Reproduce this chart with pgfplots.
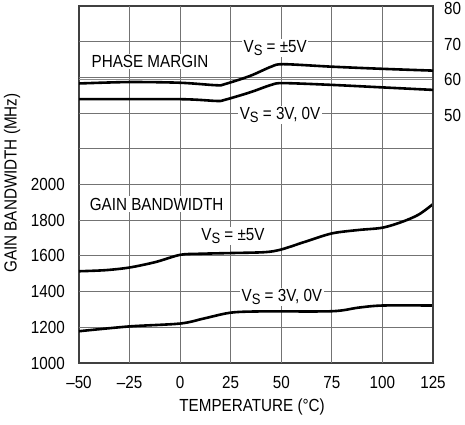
\documentclass[border=0pt]{standalone}
\usepackage{fontspec}
\setmainfont{Liberation Sans}[FakeStretch=0.87]
\usepackage{pgfplots}
\pgfplotsset{compat=1.18}
\newcommand{\fs}{\fontsize{17.5bp}{20bp}\selectfont}
\newcommand{\VS}{V\raisebox{-0.35ex}{\fontsize{15bp}{15bp}\selectfont S}}
\begin{document}
\begin{tikzpicture}
\begin{axis}[
  scale only axis, width=354bp, height=357bp,
  xmin=-50, xmax=125, ymin=1000, ymax=3000,
  xtick={-50,-25,0,25,50,75,100,125},
  xticklabels={--50,--25,0,25,50,75,100,125},
  ytick={1000,1200,1400,1600,1800,2000},
  yticklabels={1000,1200,1400,1600,1800,2000},
  major tick length=1bp,
  tick style={black!60},
  axis line style={black!75, line width=1.3bp},
  tick label style={font=\fs, inner sep=0pt},
  xticklabel style={yshift=-13bp},
  yticklabel style={xshift=-14bp},
  xlabel={TEMPERATURE (°C)},
  ylabel={GAIN BANDWIDTH (MHz)},
  every axis x label/.style={at={(axis description cs:0.489,-0.123)}, anchor=center, font=\fs},
  every axis y label/.style={at={(axis description cs:-0.189,0.504)}, anchor=center, rotate=90, font=\fs},
]
\pgfplotsinvokeforeach{-25,0,25,50,75,100}{
  \draw[black!55, line width=1bp] (axis cs:#1,1000) -- (axis cs:#1,3000);
}
\pgfplotsinvokeforeach{1200,1400,1600,1800,2000,2200,2400,2600,2800}{
  \draw[black!55, line width=1bp] (axis cs:-50,#1) -- (axis cs:125,#1);
}
\draw[black!45, line width=0.8bp] (axis cs:-50,2586) -- (axis cs:125,2586);
\addplot[black, line width=2.6bp, smooth, tension=0.5] coordinates {
 (-50,1514) (-37,1520) (-25,1535) (-12,1566) (0,1606) (10,1612) (25,1616) (42,1621) (50,1636) (62,1680) (75,1726) (88,1745) (100,1758) (110,1792) (118,1832) (125,1890)};
\addplot[black, line width=2.6bp, smooth, tension=0.5] coordinates {
 (-50,1178) (-25,1205) (0,1221) (12,1250) (25,1282) (40,1289) (75,1290) (88,1310) (100,1322) (125,1322)};
\node[fill=white, inner sep=1.5bp, font=\fs] at (axis cs:-14.9,2688) {PHASE MARGIN};
\node[fill=white, inner sep=1.5bp, font=\fs] at (axis cs:47,2765) {\VS{} = ±5V};
\node[fill=white, inner sep=1.5bp, font=\fs] at (axis cs:49.4,2389) {\VS{} = 3V, 0V};
\node[fill=white, inner sep=1.5bp, font=\fs] at (axis cs:-11.6,1890) {GAIN BANDWIDTH};
\node[fill=white, inner sep=1.5bp, font=\fs] at (axis cs:26.1,1710) {\VS{} = ±5V};
\node[fill=white, inner sep=1.5bp, font=\fs] at (axis cs:50.3,1370) {\VS{} = 3V, 0V};
\end{axis}
\begin{axis}[
  scale only axis, width=354bp, height=357bp,
  xmin=-50, xmax=125, ymin=-20, ymax=80,
  axis x line=none, axis y line*=right,
  ytick={50,60,70,80}, yticklabels={50,60,70,80},
  major tick length=1bp,
  tick style={black!60},
  axis line style={black!75, line width=1.3bp},
  yticklabel style={font=\fs, inner sep=0pt, xshift=11bp, yshift=-2.5bp},
]
\addplot[black, line width=2.6bp, smooth, tension=0.5] coordinates {
 (-50,58.3) (-25,58.7) (0,58.5) (18,57.8) (22,58.1) (34.5,60.4) (45,63.0) (51,63.7) (75,63.0) (100,62.4) (125,61.9)};
\addplot[black, line width=2.6bp, smooth, tension=0.5] coordinates {
 (-50,53.9) (0,53.9) (18,53.4) (22,53.7) (34.5,55.8) (45,57.9) (51,58.4) (75,57.9) (100,57.2) (125,56.5)};
\end{axis}
\path (-79bp,-62bp) rectangle (386bp,363bp);
\end{tikzpicture}
\end{document}
